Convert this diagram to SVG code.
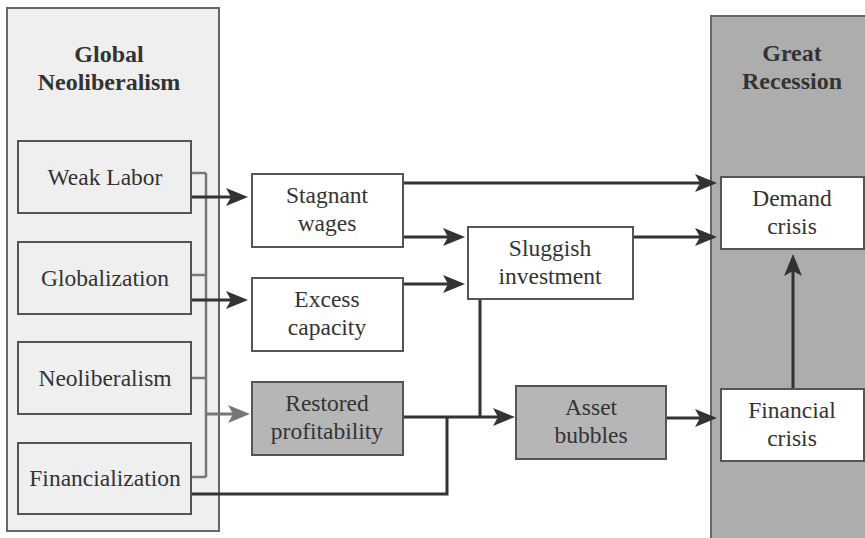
<svg xmlns="http://www.w3.org/2000/svg" width="865" height="538" viewBox="0 0 865 538">
<defs>
<style>
.panel{stroke:#666;stroke-width:2}
.box{stroke:#555;stroke-width:2}
.w{fill:#fff}
.g{fill:#b6b6b6}
.lb{fill:#efefef}
text{font-family:"Liberation Serif","Times New Roman",serif;fill:#333;text-anchor:middle;font-size:23.5px}
.t{font-weight:bold;font-size:24px}
.c{fill:none;stroke:#333;stroke-width:3}
.cg{fill:none;stroke:#777;stroke-width:2.5}
.cgd{fill:none;stroke:#777;stroke-width:3}
</style>
<marker id="ah" markerUnits="userSpaceOnUse" markerWidth="24" markerHeight="20" refX="14" refY="9" orient="auto" overflow="visible">
<path d="M0,0 L22,9 L0,18 L5,9 z" fill="#333"/>
</marker>
<marker id="ahg" markerUnits="userSpaceOnUse" markerWidth="24" markerHeight="20" refX="14" refY="9" orient="auto" overflow="visible">
<path d="M0,0 L22,9 L0,18 L5,9 z" fill="#777"/>
</marker>
</defs>
<rect width="865" height="538" fill="#fff"/>

<g id="global-neoliberalism">
<rect class="panel lb" x="7" y="8" width="212" height="523"/>
<text class="t" x="109" y="62">Global</text>
<text class="t" x="109" y="90">Neoliberalism</text>
</g>
<g id="great-recession">
<rect class="panel" fill="#adadad" x="711" y="16" width="160" height="530"/>
<text class="t" x="792" y="61">Great</text>
<text class="t" x="792" y="89">Recession</text>
</g>

<g id="connectors">
<path class="cg" d="M191,173 H206 M191,275 H206 M191,378 H206 M191,477 H206 M206,173 V477"/>
<path class="cgd" d="M206,414 H242" marker-end="url(#ahg)"/>
<path class="c" d="M191,197 H240" marker-end="url(#ah)"/>
<path class="c" d="M191,300 H240" marker-end="url(#ah)"/>
<path class="c" d="M403,183 H709" marker-end="url(#ah)"/>
<path class="c" d="M403,237 H457" marker-end="url(#ah)"/>
<path class="c" d="M403,284 H457" marker-end="url(#ah)"/>
<path class="c" d="M633,237 H709" marker-end="url(#ah)"/>
<path class="c" d="M403,417 H507" marker-end="url(#ah)"/>
<path class="c" d="M480,299 V417"/>
<path class="c" d="M191,494 H447 V417"/>
<path class="c" d="M666,418 H709" marker-end="url(#ah)"/>
<path class="c" d="M793,389 V262" marker-end="url(#ah)"/>
</g>

<g id="weak-labor">
<rect class="box lb" x="18" y="141" width="173" height="72"/>
<text x="105" y="185">Weak Labor</text>
</g>
<g id="globalization">
<rect class="box lb" x="18" y="242" width="173" height="72"/>
<text x="105" y="286">Globalization</text>
</g>
<g id="neoliberalism">
<rect class="box lb" x="18" y="342" width="173" height="72"/>
<text x="105" y="386">Neoliberalism</text>
</g>
<g id="financialization">
<rect class="box lb" x="18" y="443" width="173" height="71"/>
<text x="105" y="486">Financialization</text>
</g>

<g id="stagnant-wages">
<rect class="box w" x="252" y="174" width="151" height="73"/>
<text x="327" y="203">Stagnant</text>
<text x="327" y="231">wages</text>
</g>
<g id="excess-capacity">
<rect class="box w" x="252" y="278" width="151" height="73"/>
<text x="327" y="307">Excess</text>
<text x="327" y="335">capacity</text>
</g>
<g id="restored-profitability">
<rect class="box g" x="252" y="382" width="151" height="73"/>
<text x="327" y="411">Restored</text>
<text x="327" y="439">profitability</text>
</g>
<g id="sluggish-investment">
<rect class="box w" x="468" y="227" width="165" height="72"/>
<text x="550" y="256">Sluggish</text>
<text x="550" y="284">investment</text>
</g>
<g id="asset-bubbles">
<rect class="box g" x="516" y="386" width="150" height="73"/>
<text x="591" y="415">Asset</text>
<text x="591" y="443">bubbles</text>
</g>
<g id="demand-crisis">
<rect class="box w" x="721" y="177" width="143" height="72"/>
<text x="792" y="206">Demand</text>
<text x="792" y="234">crisis</text>
</g>
<g id="financial-crisis">
<rect class="box w" x="721" y="389" width="143" height="72"/>
<text x="792" y="418">Financial</text>
<text x="792" y="446">crisis</text>
</g>
</svg>
